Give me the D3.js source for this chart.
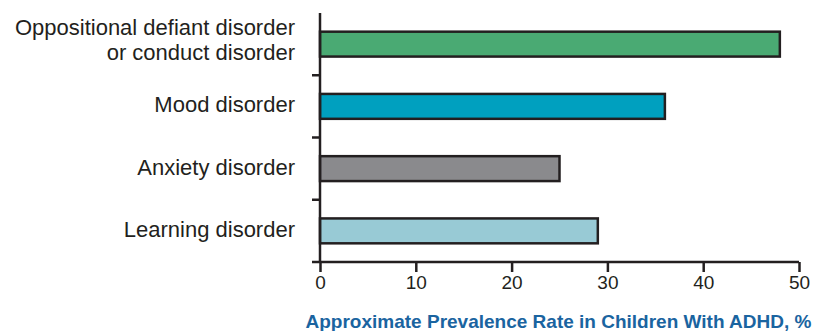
<!DOCTYPE html>
<html>
<head>
<meta charset="utf-8">
<script src="https://cdn.jsdelivr.net/npm/d3@7"></script>
<style>
  html, body { margin: 0; padding: 0; background: #fff; }
  svg text { font-family: "Liberation Sans", Arial, sans-serif; }
</style>
</head>
<body>
<svg id="chart" width="816" height="331"></svg>
<script>
// Comorbid conditions and their approximate prevalence (%) in children with ADHD
const categories = [
  ["Oppositional defiant disorder", "or conduct disorder"],
  ["Mood disorder"],
  ["Anxiety disorder"],
  ["Learning disorder"]
];
const values = [48, 36, 25, 29];
const colors = ["#4aaa73", "#00a0bf", "#8a8a8d", "#98cad5"];
const xTicks = [0, 10, 20, 30, 40, 50];
const xTitle = "Approximate Prevalence Rate in Children With ADHD, %";

const svg = d3.select("#chart");
const ink = "#231f20";

const plotLeft = 320, plotRight = 799, plotTop = 13, plotBottom = 262;

const x = d3.scaleLinear().domain([0, 50]).range([plotLeft, plotRight]);
const y = d3.scaleBand().domain(d3.range(categories.length)).range([plotTop, plotBottom])
  .paddingInner(0.6).paddingOuter(0.3);
const yBand = d3.scaleBand().domain(d3.range(categories.length)).range([plotTop, plotBottom]);

// bars
svg.append("g").selectAll("rect").data(values).join("rect")
  .attr("x", x(0))
  .attr("y", (d, i) => y(i))
  .attr("width", d => x(d) - x(0))
  .attr("height", y.bandwidth())
  .attr("fill", (d, i) => colors[i])
  .attr("stroke", ink)
  .attr("stroke-width", 2.5);

// y axis line with category separators
svg.append("line")
  .attr("x1", plotLeft).attr("x2", plotLeft)
  .attr("y1", plotTop).attr("y2", plotBottom)
  .attr("stroke", ink).attr("stroke-width", 2.5);
svg.append("g").selectAll("line").data(d3.range(1, categories.length)).join("line")
  .attr("x1", plotLeft - 8).attr("x2", plotLeft)
  .attr("y1", i => yBand(i)).attr("y2", i => yBand(i))
  .attr("stroke", ink).attr("stroke-width", 2.5);

// x axis
const xAxis = svg.append("g")
  .attr("transform", `translate(0,${plotBottom})`)
  .call(d3.axisBottom(x).tickValues(xTicks).tickSize(10));
xAxis.select(".domain").remove();
xAxis.append("line")
  .attr("x1", plotLeft - 8).attr("x2", plotRight)
  .attr("stroke", ink).attr("stroke-width", 2.5);
xAxis.selectAll(".tick line").attr("stroke", ink).attr("stroke-width", 2.5);
xAxis.selectAll(".tick text")
  .attr("fill", ink)
  .attr("y", 27)
  .attr("dy", 0)
  .style("font-size", "19px");

// category labels, right-aligned against the axis
const labels = svg.append("g").selectAll("text").data(categories).join("text")
  .attr("text-anchor", "end")
  .attr("fill", ink)
  .style("font-size", "22px");
labels.each(function(lines, i) {
  const cy = y(i) + y.bandwidth() / 2;
  const lh = 25;
  const y0 = lines.length > 1 ? cy - (lines.length - 1) * lh / 2 + 3.5 : cy + 6;
  d3.select(this).selectAll("tspan").data(lines).join("tspan")
    .attr("x", 295)
    .attr("y", (d, j) => y0 + j * lh)
    .text(d => d);
});

// axis title
svg.append("text")
  .attr("x", 558.5).attr("y", 328)
  .attr("text-anchor", "middle")
  .attr("fill", "#1a64a0")
  .style("font-size", "19px")
  .style("font-weight", "bold")
  .text(xTitle);
</script>
</body>
</html>
